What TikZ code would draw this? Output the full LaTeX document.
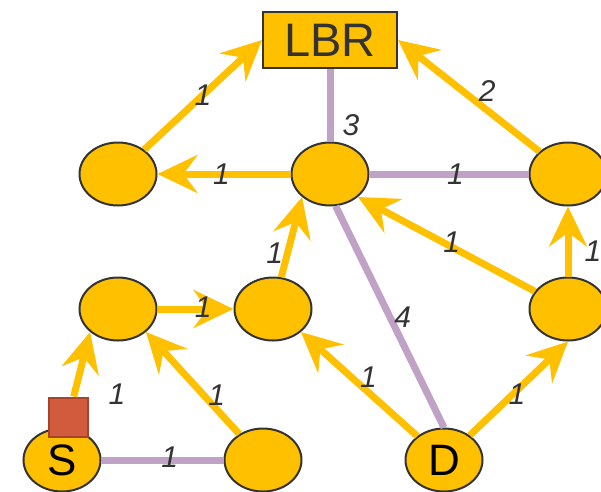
\documentclass[tikz,border=0pt]{standalone}
\usepackage{fontspec}
\setmainfont{Liberation Sans}
\usetikzlibrary{arrows.meta,shapes.geometric}
\definecolor{nodeGold}{HTML}{FFC000}
\definecolor{linkPurple}{HTML}{BFA2C6}
\definecolor{flagRed}{HTML}{D35B3D}
\definecolor{flagEdge}{HTML}{A5432B}
\definecolor{inkGray}{HTML}{333333}

\begin{document}
\begin{tikzpicture}
[x=1pt,y=-1pt,
  nodeDecorate/.style={shape=ellipse,draw=inkGray,fill=nodeGold,line width=2pt,minimum width=77pt,minimum height=63pt,inner sep=0pt,font=\fontsize{44}{44}\selectfont},
  boxDecorate/.style={shape=rectangle,draw=inkGray,fill=nodeGold,line width=2pt,minimum width=134pt,minimum height=56pt,inner sep=0pt,text=inkGray,font=\fontsize{47}{47}\selectfont},
  flagDecorate/.style={shape=rectangle,draw=flagEdge,fill=flagRed,line width=2pt,minimum size=39pt,inner sep=0pt},
  arrowDecorate/.style={-{Stealth[length=40pt,width=38pt,inset=14pt]},line width=7pt,draw=nodeGold},
  lineDecorate/.style={-,line width=7pt,draw=linkPurple},
  labelDecorate/.style={inner sep=0pt,text=inkGray,font=\fontsize{30}{30}\selectfont\itshape}]
\clip (0,0) rectangle (601,491);
%% nodes or vertices
\foreach \nodename/\x/\y/\txt in {
  A/118/174/{}, B/330/174/{}, C/568/174/{}, E/118/309/{}, F/273/309/{},
  G/568/309/{}, S/62/460/S, H/263/460/{}, D/444/460/D}
{
  \node (\nodename) at (\x,\y) [nodeDecorate] {\txt};
}
\node (LBR) at (330,40) [boxDecorate] {LBR};
\node (flag) at (68.5,417) [flagDecorate] {};
%% links
\path
\foreach \startnode/\endnode/\lbl/\p/\an/\dx/\dy in {
  B/C/1/0.54/center/0/0, B/LBR/3/0.22/west/9/0,
  B.-80/D.north/4/0.5/west/1/0, S/H/1/0.56/center/0/3}
{
  (\startnode) edge[lineDecorate] node[labelDecorate,pos=\p,anchor=\an,xshift=\dx pt,yshift=\dy pt] {\lbl} (\endnode)
};
%% arrows
\path
\foreach \startnode/\endnode/\lbl/\p/\an/\dx/\dy in {
  A/LBR.west/1/0.5/center/0/0, B/A/1/0.52/center/0/0,
  C/LBR.east/2/0.37/south/0/5, G/B.south east/1/0.47/center/0/5,
  G/C/1/0.36/west/13/0, F/B.south west/1/0.3/east/-1/0,
  E/F/1/0.6/center/0/2, flag/E.south west/1/0.03/west/31/0,
  H/E.south east/1/0.38/west/1/0, D/F.south east/1/0.42/south/0/1,
  D/G.south/1/0.48/center/0/-4}
{
  (\startnode) edge[arrowDecorate] node[labelDecorate,pos=\p,anchor=\an,xshift=\dx pt,yshift=\dy pt] {\lbl} (\endnode)
};
\end{tikzpicture}
\end{document}
